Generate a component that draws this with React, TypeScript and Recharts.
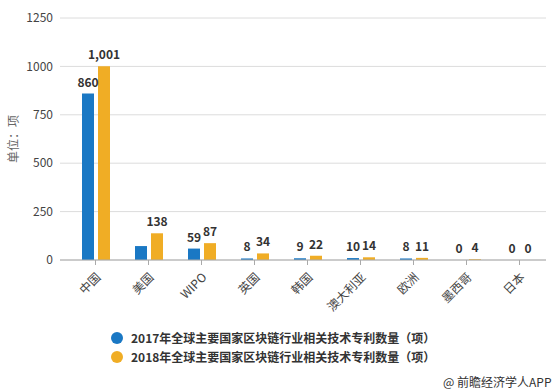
import React from 'react';
import { BarChart, Bar, XAxis, YAxis, CartesianGrid } from 'recharts';

const categories = ['中国', '美国', 'WIPO', '英国', '韩国', '澳大利亚', '欧洲', '墨西哥', '日本'];
const values2017 = [860, 72, 59, 8, 9, 10, 8, 0, 0];
const values2018 = [1001, 138, 87, 34, 22, 14, 11, 4, 0];
const yTicks = [0, 250, 500, 750, 1000, 1250];
const seriesNames = [
  '2017年全球主要国家区块链行业相关技术专利数量（项）',
  '2018年全球主要国家区块链行业相关技术专利数量（项）',
];
// the source hides the 2017 label for 美国
const hiddenLabels2017 = ['美国'];

const BLUE = '#1a78c4';
const ORANGE = '#f0ad25';
const FONT = '"Microsoft YaHei", "Noto Sans CJK SC", "Noto Sans", sans-serif';

const data = categories.map((name, i) => ({
  name,
  y2017: values2017[i],
  y2018: values2018[i],
}));

const makeLabel = (hidden: string[]) => (props: any) => {
  const { x, y, width, height, value, index } = props;
  if (hidden.includes(categories[index])) return null;
  const top = Math.min(y, y + height);
  return (
    <text
      x={x + width / 2}
      y={top - 7}
      textAnchor="middle"
      fontSize={12}
      fontWeight="bold"
      fill="#333"
      fontFamily={FONT}
    >
      {Number(value).toLocaleString('en-US')}
    </text>
  );
};

const XTick = (props: any) => {
  const { x, y, payload } = props;
  return (
    <g transform={`translate(${x + 3},${y + 8}) rotate(-45)`}>
      <text x={0} y={0} dy="0.35em" textAnchor="end" fontSize={12} fill="#444" fontFamily={FONT}>
        {payload.value}
      </text>
    </g>
  );
};

const YTick = (props: any) => {
  const { y, payload } = props;
  return (
    <text x={53} y={y} dy="0.35em" textAnchor="end" fontSize={12} fill="#444" fontFamily={FONT}>
      {payload.value}
    </text>
  );
};

const App: React.FC = () => {
  return (
    <div style={{ position: 'absolute', left: 0, top: 0, width: 558, height: 392, background: '#fff' }}>
      <BarChart
        width={558}
        height={392}
        data={data}
        margin={{ top: 18, right: 12, left: 0, bottom: 0 }}
        barSize={12}
        barGap={4}
      >
        <CartesianGrid vertical={false} stroke="#dcdcdc" />
        <XAxis
          dataKey="name"
          interval={0}
          padding={{ left: 9, right: 0 }}
          tick={<XTick />}
          axisLine={{ stroke: '#aaa' }}
          tickLine={{ stroke: '#aaa' }}
          tickSize={5}
          height={132}
        />
        <YAxis
          width={60}
          domain={[0, 1250]}
          ticks={yTicks}
          axisLine={false}
          tickLine={false}
          tick={<YTick />}
          label={{
            value: '单位：项',
            angle: -90,
            position: 'insideLeft',
            dx: 9,
            style: { fill: '#666', fontSize: 12, fontFamily: FONT, textAnchor: 'middle' },
          }}
        />
        <Bar dataKey="y2017" name={seriesNames[0]} fill={BLUE} minPointSize={0.01} isAnimationActive={false} label={makeLabel(hiddenLabels2017)} />
        <Bar dataKey="y2018" name={seriesNames[1]} fill={ORANGE} minPointSize={0.01} isAnimationActive={false} label={makeLabel([])} />
      </BarChart>
      <div
        style={{
          position: 'absolute',
          left: 111,
          top: 328,
          fontFamily: FONT,
          fontSize: 12,
          fontWeight: 'bold',
          color: '#333',
        }}
      >
        {seriesNames.map((s, i) => (
          <div key={s} style={{ display: 'flex', alignItems: 'center', height: 19, whiteSpace: 'nowrap' }}>
            <span
              style={{
                width: 12,
                height: 12,
                borderRadius: 6,
                background: i === 0 ? BLUE : ORANGE,
                marginRight: 8,
                display: 'inline-block',
              }}
            />
            {s}
          </div>
        ))}
      </div>
      <div
        style={{
          position: 'absolute',
          left: 443,
          top: 373,
          fontFamily: FONT,
          fontSize: 12,
          color: '#333',
          whiteSpace: 'nowrap',
        }}
      >
        @ 前瞻经济学人APP
      </div>
    </div>
  );
};

export default App;
